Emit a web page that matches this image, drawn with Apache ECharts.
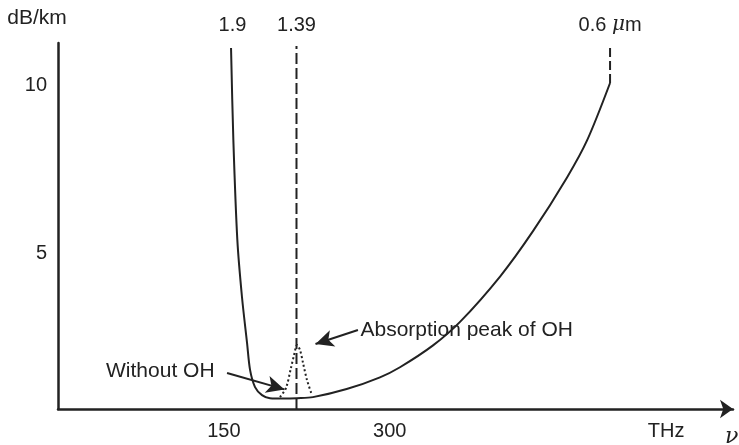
<!DOCTYPE html>
<html>
<head>
<meta charset="utf-8">
<script src="https://cdn.jsdelivr.net/npm/echarts@6/dist/echarts.min.js"></script>
<style>html,body{margin:0;padding:0;background:#fff}#c{width:739px;height:445px}</style>
</head>
<body>
<div id="c"></div>
<script>
// Frequency (THz) and attenuation (dB/km) of the fibre loss curve
var lossX = [156.5,158.6,162.2,166.4,171.0,173.7,178.2,184.5,191.7,204.0,216.2,230.6,261.1,291.2,309.3,339.2,363.6,399.8,429.6,460.4,478.5,499.3];
var lossY = [11.1,8.36,5.39,3.69,2.32,1.52,1.01,0.77,0.68,0.67,0.68,0.71,0.95,1.30,1.60,2.25,2.95,4.30,5.65,7.25,8.35,10.06];
// OH absorption peak (dotted)
var peakX = [200.8,206.2,210.7,213.5,216.2,218.9,221.6,225.2,229.7];
var peakY = [0.71,0.98,1.58,1.96,2.26,2.11,1.73,1.22,0.77];
// wavelength markers (THz) and their labels
var markFreq = [157.8, 215.7, 499.3];
var markLabels = ['1.9', '1.39', '0.6 {mu|\u03bc}m'];
var line139X = [215.7, 215.7], line139Y = [0.357, 11.16];
var line06X = [499.3, 499.3], line06Y = [10.06, 11.19];
// axis tick labels
var xTickValues = [150, 300, 550];
var xTickLabels = ['150', '300', 'THz'];
var yTickValues = [5, 10];
// annotations: [tailX, tailY, headX, headY, text]
var annAbs = [271.3, 2.71, 232.9, 2.29, 'Absorption peak of OH'];
var annNoOH = [152.9, 1.43, 204.8, 0.94, 'Without OH'];

function zip(a, b) { return a.map(function (v, i) { return [v, b[i]]; }); }

var INK = '#222';
var FONT = 'Liberation Sans, Arial, sans-serif';

var chart = echarts.init(document.getElementById('c'), null, {renderer: 'canvas'});
chart.setOption({
  animation: false,
  grid: {left: 58, right: 6, top: 43, bottom: 36, containLabel: false},
  xAxis: [{
    type: 'value', min: 0, max: 610.5,
    axisLine: {show: true, lineStyle: {color: INK, width: 2.5}, symbol: ['none', 'arrow'], symbolSize: [14, 13]},
    axisTick: {show: false},
    splitLine: {show: false},
    axisLabel: {
      customValues: xTickValues, margin: 12, color: INK, fontSize: 20, fontFamily: FONT,
      formatter: function (v) { var i = xTickValues.indexOf(v); return i >= 0 ? xTickLabels[i] : ''; }
    }
  }, {
    type: 'value', min: 0, max: 610.5, position: 'top',
    axisLine: {show: false}, axisTick: {show: false}, splitLine: {show: false},
    axisLabel: {
      customValues: markFreq, margin: 8, color: INK, fontSize: 20, fontFamily: FONT,
      formatter: function (v) { var i = markFreq.indexOf(v); return i >= 0 ? markLabels[i] : ''; },
      rich: {mu: {fontStyle: 'italic', fontFamily: 'DejaVu Serif, serif', fontSize: 20, color: INK}}
    }
  }],
  yAxis: {
    type: 'value', min: 0.357, max: 11.25,
    name: 'dB/km', nameLocation: 'end', nameGap: 14,
    nameTextStyle: {color: INK, fontSize: 21, fontFamily: FONT, padding: [0, 42, 0, 0]},
    axisLine: {show: true, lineStyle: {color: INK, width: 2.5}},
    axisTick: {show: false},
    splitLine: {show: false},
    axisLabel: {customValues: yTickValues, margin: 11, color: INK, fontSize: 20, fontFamily: FONT}
  },
  graphic: [{
    type: 'text', left: 725, top: 426,
    style: {text: '\u03bd', fill: INK, font: 'italic 22px DejaVu Serif, serif'}
  }],
  series: [{
    type: 'line', data: zip(lossX, lossY), smooth: 0.3, showSymbol: false, silent: true,
    lineStyle: {color: INK, width: 2},
    markLine: {
      silent: true, animation: false,
      symbol: ['none', 'arrow'], symbolSize: [13, 18],
      lineStyle: {color: INK, width: 2, type: 'solid'},
      itemStyle: {color: INK},
      label: {show: false},
      data: [
        [{coord: [annAbs[0], annAbs[1]]}, {coord: [annAbs[2], annAbs[3]]}],
        [{coord: [annNoOH[0], annNoOH[1]]}, {coord: [annNoOH[2], annNoOH[3]]}]
      ]
    },
    markPoint: {
      silent: true, animation: false,
      symbol: 'circle', symbolSize: 1, itemStyle: {color: 'rgba(0,0,0,0)'},
      data: [
        {coord: [annAbs[0], annAbs[1]], label: {show: true, position: 'right', distance: 2, formatter: annAbs[4], color: INK, fontSize: 21, fontFamily: FONT}},
        {coord: [annNoOH[0], annNoOH[1]], label: {show: true, position: 'left', distance: 12, offset: [0, -2], formatter: annNoOH[4], color: INK, fontSize: 21, fontFamily: FONT}}
      ]
    }
  }, {
    type: 'line', data: zip(peakX, peakY), smooth: 0.3, showSymbol: false, silent: true,
    lineStyle: {color: INK, width: 2, type: [2, 2.5]}
  }, {
    type: 'line', data: zip(line139X, line139Y), showSymbol: false, silent: true,
    lineStyle: {color: INK, width: 2, type: [11, 4]}
  }, {
    type: 'line', data: zip(line06X, line06Y), showSymbol: false, silent: true,
    lineStyle: {color: INK, width: 2, type: [9, 4]}
  }]
});
</script>
</body>
</html>
